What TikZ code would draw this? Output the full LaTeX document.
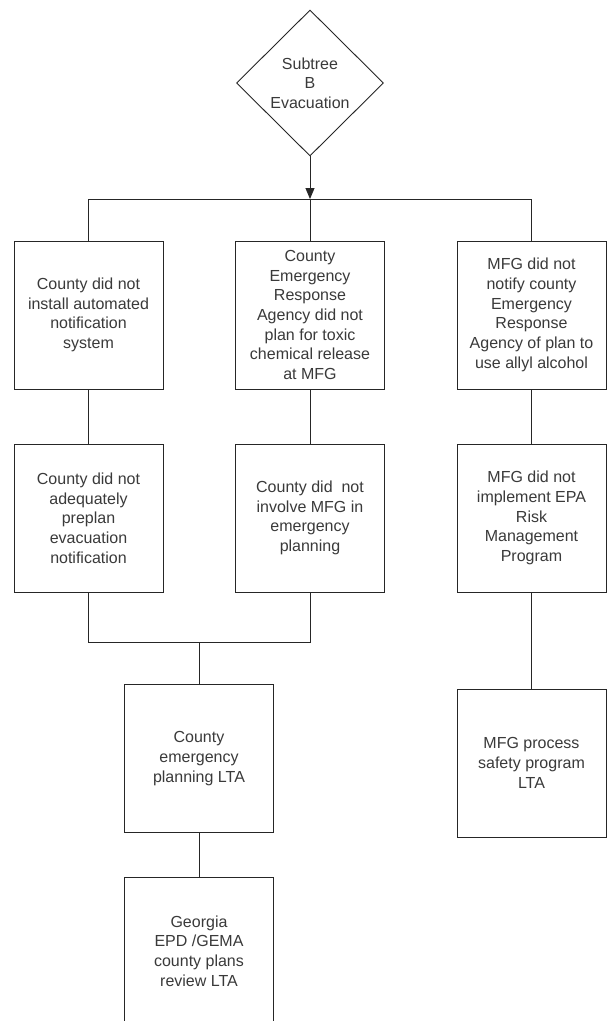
\documentclass[tikz,border=0pt]{standalone}
\usepackage{fontspec}
\setmainfont{Liberation Sans}
\usetikzlibrary{shapes.geometric,arrows.meta}
\definecolor{txtgray}{HTML}{3A3A3A}
\definecolor{linegray}{HTML}{262626}
\tikzset{
  every node/.style={font=\fontsize{16pt}{19.7pt}\selectfont, text=txtgray},
  evbox/.style={draw=linegray, line width=0.9pt, fill=white, rectangle,
    minimum width=149pt, minimum height=148pt, inner sep=0pt, align=center},
  topgate/.style={draw=linegray, line width=0.9pt, fill=white, diamond,
    minimum width=147pt, minimum height=146pt, inner sep=0pt, align=center},
  conn/.style={draw=linegray, line width=0.9pt},
}
\begin{document}
\begin{tikzpicture}[x=1pt,y=-1pt]
\clip (0,0) rectangle (614,1021);
\fill[white] (0,0) rectangle (614,1021);

\node[topgate] (d) at (310,83) {Subtree\\B\\Evacuation};

\node[evbox] (a1) at (88.5,315) {County did not\\install automated\\notification\\system};
\node[evbox] (a2) at (310,315) {County\\Emergency\\Response\\Agency did not\\plan for toxic\\chemical release\\at MFG};
\node[evbox] (a3) at (531.5,315) {MFG did not\\notify county\\Emergency\\Response\\Agency of plan to\\use allyl alcohol};

\node[evbox] (b1) at (88.5,518) {County did not\\adequately\\preplan\\evacuation\\notification};
\node[evbox] (b2) at (310,518) {County did~ not\\involve MFG in\\emergency\\planning};
\node[evbox] (b3) at (531.5,518) {MFG did not\\implement EPA\\Risk\\Management\\Program};

\node[evbox] (c1) at (199,758.5) {County\\emergency\\planning LTA};
\node[evbox] (c3) at (531.5,763) {MFG process\\safety program\\LTA};

\node[evbox] (e1) at (199,951) {Georgia\\EPD /GEMA\\county plans\\review LTA};

\coordinate (bus) at (310,199);
\coordinate (junc) at (199,642);

\draw[conn] (a1.north) |- (bus);
\draw[conn] (a3.north) |- (bus);
\draw[conn] (bus) -- (a2.north);
\draw[conn, -{Triangle[width=9pt,length=11pt]}] (d.south) -- (bus);

\draw[conn] (a1.south) -- (b1.north);
\draw[conn] (a2.south) -- (b2.north);
\draw[conn] (a3.south) -- (b3.north);

\draw[conn] (b1.south) |- (junc);
\draw[conn] (b2.south) |- (junc);
\draw[conn] (junc) -- (c1.north);

\draw[conn] (b3.south) -- (c3.north);
\draw[conn] (c1.south) -- (e1.north);
\end{tikzpicture}
\end{document}
